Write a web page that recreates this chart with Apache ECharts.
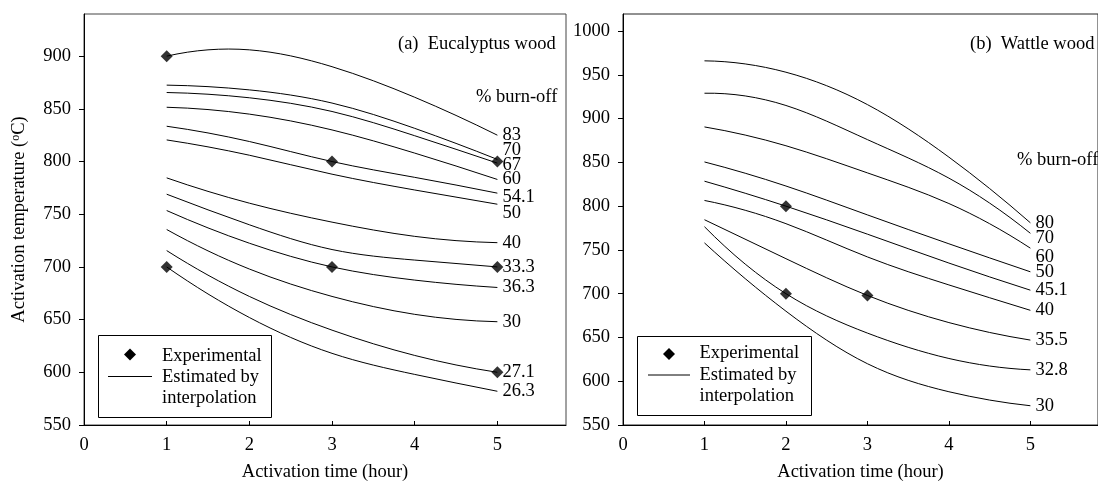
<!DOCTYPE html>
<html>
<head>
<meta charset="utf-8">
<script src="https://cdn.jsdelivr.net/npm/echarts@6/dist/echarts.min.js"></script>
<style>
html,body{margin:0;padding:0;background:#fff;}
#chart{width:1098px;height:488px;}
</style>
</head>
<body>
<div id="chart"></div>
<script>
// ---------- DATA ----------
const activationTimes = [1, 2, 3, 4, 5];
const xTickValues = [0, 1, 2, 3, 4, 5];
const yTicksA = [550, 600, 650, 700, 750, 800, 850, 900];
const yTicksB = [550, 600, 650, 700, 750, 800, 850, 900, 950, 1000];

// (a) Eucalyptus wood: % burn-off contour lines (temperature at t = 1..5 h)
const eucLabels = ['83', '70', '67', '60', '54.1', '50', '40', '33.3', '36.3', '30', '27.1', '26.3'];
const euc83   = [900, 906, 890, 861, 825];
const euc70   = [872.5, 868, 855.5, 831.5, 802];
const euc67   = [865.5, 860.5, 847.5, 824.5, 798.5];
const euc60   = [851.5, 845, 830, 808, 783];
const euc54_1 = [833.5, 819, 800, 785, 770];
const euc50   = [820.5, 806, 788, 773, 759.5];
const euc40   = [784.5, 760.5, 742.5, 729, 723];
const euc33_3 = [769, 740, 716.5, 706.5, 700];
const euc36_3 = [753.5, 722.5, 700, 687.5, 680.5];
const euc30   = [735.5, 698, 672, 655, 648];
const euc27_1 = [715.5, 672, 640, 616, 600];
const euc26_3 = [700, 652, 618, 598, 582];
const eucExperimental = [[1, 900], [3, 800], [5, 800], [1, 700], [3, 700], [5, 700], [5, 600]];

// (b) Wattle wood
const watLabels = ['80', '70', '60', '50', '45.1', '40', '35.5', '32.8', '30'];
const wat80   = [966, 953, 916, 856, 781];
const wat70   = [929, 915, 876, 832, 769];
const wat60   = [890.5, 869, 838, 803, 752];
const wat50   = [850.5, 823, 790, 757, 725];
const wat45_1 = [828.5, 800, 768, 735, 704];
const wat40   = [806.5, 780, 742, 710, 681];
const wat35_5 = [784.5, 740, 698, 667, 647];
const wat32_8 = [776.5, 700, 655, 626, 613];
const wat30   = [758, 680, 620, 588, 572];
const watExperimental = [[2, 800], [2, 700], [3, 698]];

// ---------- STYLE ----------
const FONT = 'Liberation Serif';
const FS = 18.5;
const FONT_CSS = FS + 'px "' + FONT + '"';
const eucSeriesValues = [euc83, euc70, euc67, euc60, euc54_1, euc50, euc40, euc33_3, euc36_3, euc30, euc27_1, euc26_3];
const watSeriesValues = [wat80, wat70, wat60, wat50, wat45_1, wat40, wat35_5, wat32_8, wat30];
const eucLabelShift = {'70': -9, '67': 2, '54.1': 4, '50': 9};
const watLabelShift = {'70': 5, '60': 9};

// smooth cubic spline (parabolic run-out) through the pixel points, as bezier path
function splinePath(p) {
  const n = p.length;
  const h = p[1][0] - p[0][0];
  const m = new Array(n).fill(0);
  if (n > 2) {
    const k = n - 2;
    const a = [], b = [], c = [], d = [];
    for (let i = 1; i <= k; i++) {
      a.push(1); c.push(1);
      b.push((i === 1 || i === k) ? 5 : 4);
      d.push(6 * (p[i + 1][1] - 2 * p[i][1] + p[i - 1][1]) / (h * h));
    }
    if (k === 1) b[0] = 6;
    for (let i = 1; i < k; i++) {
      const w = a[i] / b[i - 1];
      b[i] -= w * c[i - 1];
      d[i] -= w * d[i - 1];
    }
    const x = new Array(k);
    x[k - 1] = d[k - 1] / b[k - 1];
    for (let i = k - 2; i >= 0; i--) x[i] = (d[i] - c[i] * x[i + 1]) / b[i];
    for (let i = 0; i < k; i++) m[i + 1] = x[i];
    m[0] = m[1]; m[n - 1] = m[n - 2];
  }
  let s = 'M' + p[0][0] + ' ' + p[0][1];
  for (let i = 0; i < n - 1; i++) {
    const x0 = p[i][0], y0 = p[i][1], x1 = p[i + 1][0], y1 = p[i + 1][1];
    const hh = x1 - x0;
    const s0 = (y1 - y0) / hh - hh * (2 * m[i] + m[i + 1]) / 6;
    const s1 = (y1 - y0) / hh + hh * (m[i] + 2 * m[i + 1]) / 6;
    s += ' C' + (x0 + hh / 3) + ' ' + (y0 + hh / 3 * s0) + ' ' + (x1 - hh / 3) + ' ' + (y1 - hh / 3 * s1) + ' ' + x1 + ' ' + y1;
  }
  return s;
}

function curveSeries(labels, valuesList, axisIdx, shift) {
  return {
    type: 'custom', xAxisIndex: axisIdx, yAxisIndex: axisIdx,
    data: valuesList.map(v => [activationTimes[activationTimes.length - 1], v[v.length - 1]]),
    encode: {x: 0, y: 1},
    silent: true, animation: false, z: 2, clip: false,
    renderItem: function (params, api) {
      const i = params.dataIndex;
      const vals = valuesList[i];
      const pts = activationTimes.map((t, k) => api.coord([t, vals[k]]));
      const end = pts[pts.length - 1];
      return {
        type: 'group',
        children: [
          {type: 'path', shape: {pathData: splinePath(pts)}, style: {stroke: '#000', fill: 'none', lineWidth: 1}},
          {type: 'text', style: {text: labels[i], x: end[0] + 5, y: end[1] + (shift[labels[i]] || 0),
            fill: '#000', font: FONT_CSS, verticalAlign: 'middle', align: 'left'}}
        ]
      };
    }
  };
}
function scatterSeries(data, axisIdx) {
  return {
    type: 'scatter', xAxisIndex: axisIdx, yAxisIndex: axisIdx,
    data: data, symbol: 'diamond', symbolSize: [12, 12],
    itemStyle: {color: '#000'}, silent: true, animation: false, z: 5
  };
}
function xAxis(gi) {
  return {
    type: 'value', gridIndex: gi, min: 0, max: 5.83, interval: 1,
    axisLine: {show: true, onZero: false, lineStyle: {color: '#000', width: 1}},
    axisTick: {show: true, inside: true, length: 4, customValues: [1, 2, 3, 4, 5], lineStyle: {color: '#000'}},
    axisLabel: {customValues: xTickValues, margin: 11, color: '#000', fontFamily: FONT, fontSize: FS, formatter: v => String(v)},
    splitLine: {show: false},
    name: 'Activation time (hour)', nameLocation: 'middle', nameGap: 38,
    nameTextStyle: {color: '#000', fontFamily: FONT, fontSize: FS}
  };
}
function yAxis(gi, min, max, ticks, name) {
  const a = {
    type: 'value', gridIndex: gi, min: min, max: max, interval: 50,
    axisLine: {show: true, onZero: false, lineStyle: {color: '#000', width: 1}},
    axisTick: {show: true, inside: false, length: 5, customValues: ticks, lineStyle: {color: '#000'}},
    axisLabel: {customValues: ticks, margin: 13, color: '#000', fontFamily: FONT, fontSize: FS, formatter: v => String(v)},
    splitLine: {show: false}
  };
  if (name) {
    a.name = '{n|Activation temperature (}{s|o}{n|C)}';
    a.nameLocation = 'middle';
    a.nameRotate = 90;
    a.nameGap = 55;
    a.nameTextStyle = {
      color: '#000', fontFamily: FONT, fontSize: FS,
      rich: {
        n: {fontFamily: FONT, fontSize: FS, color: '#000'},
        s: {fontFamily: FONT, fontSize: 12, color: '#000', verticalAlign: 'top', padding: [0, 0, 7, 0]}
      }
    };
  }
  return a;
}
function txt(x, y, s) {
  return {
    type: 'text', x: x, y: y, silent: true, z: 10,
    style: {text: s, fill: '#000', font: FONT_CSS, verticalAlign: 'middle', align: 'left'}
  };
}
function legendGroup(bx, by, bw, bh, dx, dy, lx1, lx2, ly, tx, ty) {
  return [
    {type: 'rect', shape: {x: bx, y: by, width: bw, height: bh}, style: {fill: '#fff', stroke: '#000', lineWidth: 1}, z: 8, silent: true},
    {type: 'polygon', shape: {points: [[dx, dy - 6], [dx + 6, dy], [dx, dy + 6], [dx - 6, dy]]}, style: {fill: '#000'}, z: 9, silent: true},
    {type: 'line', shape: {x1: lx1, y1: ly, x2: lx2, y2: ly}, style: {stroke: '#000', lineWidth: 1}, z: 9, silent: true},
    txt(tx, ty[0], 'Experimental'),
    txt(tx, ty[1], 'Estimated by'),
    txt(tx, ty[2], 'interpolation')
  ];
}

const series = [
  curveSeries(eucLabels, eucSeriesValues, 0, eucLabelShift),
  curveSeries(watLabels, watSeriesValues, 1, watLabelShift),
  scatterSeries(eucExperimental, 0),
  scatterSeries(watExperimental, 1)
];

const chart = echarts.init(document.getElementById('chart'), null, {renderer: 'canvas', width: 1098, height: 488});
chart.setOption({
  animation: false,
  backgroundColor: '#fff',
  grid: [
    {left: 84, top: 14, width: 482, height: 411, show: true, borderColor: '#444', borderWidth: 1, backgroundColor: 'transparent'},
    {left: 623, top: 14, width: 483, height: 411, show: true, borderColor: '#222', borderWidth: 1, backgroundColor: 'transparent'}
  ],
  xAxis: [xAxis(0), xAxis(1)],
  yAxis: [yAxis(0, 550, 940, yTicksA, true), yAxis(1, 550, 1019.5, yTicksB, false)],
  series: series,
  graphic: [
    txt(398, 44, '(a)  Eucalyptus wood'),
    txt(476, 97, '% burn-off'),
    txt(970, 44, '(b)  Wattle wood'),
    txt(1017, 160, '% burn-off')
  ].concat(
    legendGroup(98.5, 335.5, 173, 82, 130, 354.5, 108, 152, 376.5, 162, [356, 377, 398]),
    legendGroup(637.5, 336.5, 174, 79, 669, 354, 648, 690, 375, 699.5, [353.5, 375, 396])
  )
});
</script>
</body>
</html>
